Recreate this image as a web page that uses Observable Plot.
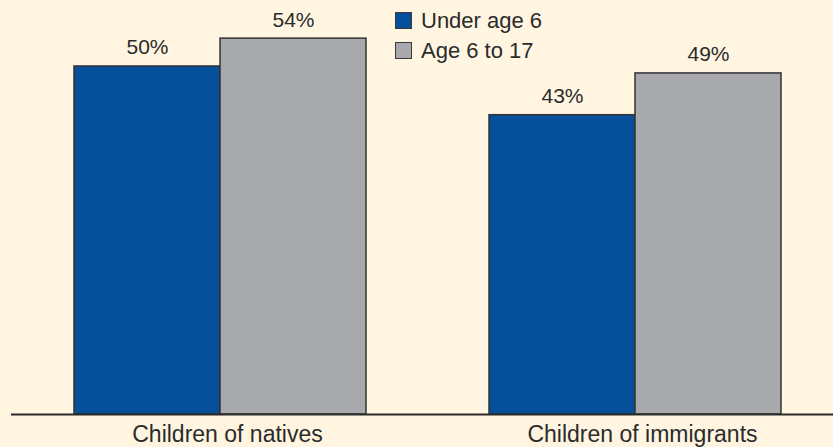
<!DOCTYPE html>
<html>
<head>
<meta charset="utf-8">
<script src="https://cdn.jsdelivr.net/npm/d3@7"></script>
<script src="https://cdn.jsdelivr.net/npm/@observablehq/plot@0.6"></script>
<style>
  html, body { margin: 0; padding: 0; background: #fff5e1; }
  #wrap { position: relative; width: 833px; height: 447px; background: #fff5e1; font-family: "Liberation Sans", Arial, Helvetica, sans-serif; color: #2b2b2b; }
  #legend { position: absolute; left: 395px; top: 5.5px; font-size: 22px; line-height: 30px; }
  #legend .item { display: flex; align-items: center; height: 30px; }
  #legend .sw { width: 15px; height: 15px; border: 1.5px solid #3a3a3a; margin-right: 9px; }
</style>
</head>
<body>
<div id="wrap"><div id="legend"></div></div>
<script>
const categories = ["Children of natives", "Children of immigrants"];
const series = ["Under age 6", "Age 6 to 17"];
const under6 = [50, 43];
const age6to17 = [54, 49];
const colors = ["#06509b", "#a8a9ad"];

const d0 = categories.map((c, i) => ({category: c, value: under6[i], label: under6[i] + "%"}));
const d1 = categories.map((c, i) => ({category: c, value: age6to17[i], label: age6to17[i] + "%"}));

const font = "Liberation Sans, Arial, Helvetica, sans-serif";

const chart = Plot.plot({
  width: 833,
  height: 447,
  marginLeft: 11,
  marginRight: 0,
  marginTop: 0,
  marginBottom: 33,
  style: {background: "#fff5e1", fontFamily: font, color: "#2b2b2b"},
  x: {domain: categories, paddingInner: 0.296, paddingOuter: 0.137, align: 0.545, label: null, tickSize: 0, tickPadding: 12},
  y: {domain: [0, 59.48], axis: null},
  marks: [
    Plot.barY(d0, {x: "category", y: "value", fill: colors[0], stroke: "#333", strokeWidth: 1.5, insetRight: 146}),
    Plot.barY(d1, {x: "category", y: "value", fill: colors[1], stroke: "#333", strokeWidth: 1.5, insetLeft: 146}),
    Plot.text(d0, {x: "category", y: "value", text: "label", dx: -73, dy: -12, lineAnchor: "bottom", fontSize: 21, fill: "#2b2b2b"}),
    Plot.text(d1, {x: "category", y: "value", text: "label", dx: 73, dy: -12, lineAnchor: "bottom", fontSize: 21, fill: "#2b2b2b"}),
    Plot.ruleY([0], {stroke: "#2b2b2b", strokeWidth: 2}),
    Plot.axisX({tickSize: 0, tickPadding: 11, fontSize: 23, label: null, dx: 7})
  ]
});

const wrap = document.getElementById("wrap");
wrap.insertBefore(chart, wrap.firstChild);

const legend = document.getElementById("legend");
series.forEach((s, i) => {
  const item = document.createElement("div");
  item.className = "item";
  const sw = document.createElement("div");
  sw.className = "sw";
  sw.style.background = colors[i];
  const t = document.createElement("span");
  t.textContent = s;
  item.appendChild(sw);
  item.appendChild(t);
  legend.appendChild(item);
});
</script>
</body>
</html>
